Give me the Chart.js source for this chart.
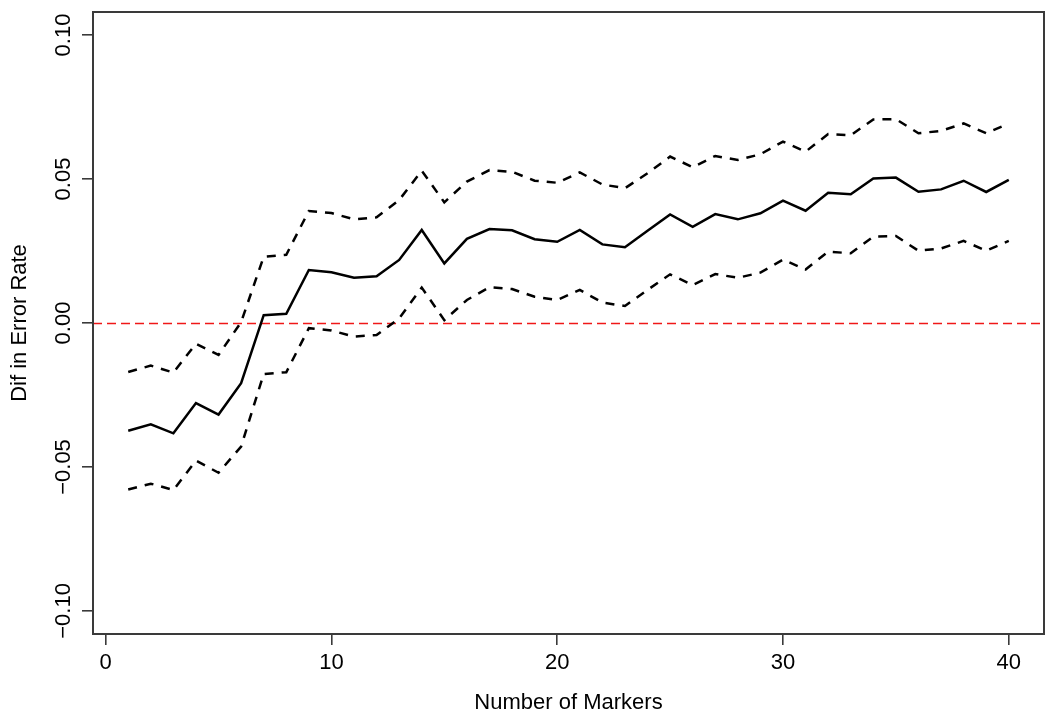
<!DOCTYPE html>
<html>
<head>
<meta charset="utf-8">
<script src="https://cdn.jsdelivr.net/npm/chart.js@4"></script>
<style>
  html, body { margin: 0; padding: 0; background: #fff; }
  #wrap { width: 1050px; height: 726px; position: relative; }
</style>
</head>
<body>
<div id="wrap"><canvas id="errChart"></canvas></div>
<script>
const markers = [1, 2, 3, 4, 5, 6, 7, 8, 9, 10, 11, 12, 13, 14, 15, 16, 17, 18, 19, 20,
                 21, 22, 23, 24, 25, 26, 27, 28, 29, 30, 31, 32, 33, 34, 35, 36, 37, 38, 39, 40];

const meanDiff = [-0.0374, -0.0352, -0.0383, -0.0278, -0.0318, -0.0209, 0.0027, 0.0032, 0.0184, 0.0176,
                  0.0157, 0.0162, 0.0219, 0.0323, 0.0207, 0.0292, 0.0326, 0.0322, 0.0291, 0.0282,
                  0.0323, 0.0273, 0.0263, 0.0320, 0.0377, 0.0334, 0.0378, 0.0360, 0.0381, 0.0425,
                  0.0390, 0.0452, 0.0447, 0.0502, 0.0505, 0.0456, 0.0464, 0.0494, 0.0455, 0.0497];

const upperBound = [-0.0170, -0.0148, -0.0172, -0.0072, -0.0111, 0.0003, 0.0230, 0.0237, 0.0389, 0.0382,
                    0.0360, 0.0367, 0.0427, 0.0529, 0.0419, 0.0491, 0.0531, 0.0525, 0.0494, 0.0487,
                    0.0523, 0.0481, 0.0468, 0.0520, 0.0578, 0.0541, 0.0580, 0.0566, 0.0586, 0.0630,
                    0.0595, 0.0656, 0.0652, 0.0707, 0.0708, 0.0659, 0.0667, 0.0693, 0.0659, 0.0693];

const lowerBound = [-0.0578, -0.0558, -0.0580, -0.0478, -0.0520, -0.0429, -0.0177, -0.0171, -0.0018, -0.0026,
                    -0.0047, -0.0042, 0.0016, 0.0123, 0.0010, 0.0080, 0.0124, 0.0118, 0.0091, 0.0080,
                    0.0115, 0.0071, 0.0059, 0.0115, 0.0169, 0.0132, 0.0170, 0.0157, 0.0175, 0.0220,
                    0.0186, 0.0248, 0.0242, 0.0300, 0.0302, 0.0251, 0.0259, 0.0285, 0.0251, 0.0285];

const xTicks = [0, 10, 20, 30, 40];
const yTicks = [-0.10, -0.05, 0.00, 0.05, 0.10];
const yTickLabels = ['\u22120.10', '\u22120.05', '0.00', '0.05', '0.10'];
const refLine = 0;

const FONT = "'Liberation Sans', Arial, Helvetica, sans-serif";
const AXIS_COL = '#3a3a3a';

const toPoints = ys => markers.map((m, i) => ({ x: m, y: ys[i] }));

// box, zero line and rotated y labels, like base R graphics
const rStylePlugin = {
    id: 'rStyle',
    beforeDatasetsDraw(chart) {
        const { ctx, chartArea, scales } = chart;
        const y0 = Math.round(scales.y.getPixelForValue(refLine)) + 0.5;
        ctx.save();
        ctx.strokeStyle = '#f01818';
        ctx.lineWidth = 1.6;
        ctx.setLineDash([9, 5]);
        ctx.beginPath();
        ctx.moveTo(chartArea.left, y0);
        ctx.lineTo(chartArea.right, y0);
        ctx.stroke();
        ctx.restore();
    },
    afterDraw(chart) {
        const { ctx, chartArea, scales } = chart;
        ctx.save();
        ctx.strokeStyle = AXIS_COL;
        ctx.lineWidth = 2;
        ctx.strokeRect(chartArea.left, chartArea.top,
                       chartArea.right - chartArea.left, chartArea.bottom - chartArea.top);

        ctx.fillStyle = '#000';
        ctx.font = '22px ' + FONT;
        ctx.textAlign = 'center';
        ctx.textBaseline = 'alphabetic';
        yTicks.forEach((v, i) => {
            const py = scales.y.getPixelForValue(v);
            ctx.save();
            ctx.translate(70, py);
            ctx.rotate(-Math.PI / 2);
            ctx.fillText(yTickLabels[i], 0, 0);
            ctx.restore();
        });
        ctx.restore();
    }
};

const lineStyle = {
    borderColor: '#000',
    borderWidth: 2.5,
    pointRadius: 0,
    tension: 0,
    fill: false
};

new Chart(document.getElementById('errChart').getContext('2d'), {
    type: 'line',
    data: {
        datasets: [
            { ...lineStyle, label: 'Upper', data: toPoints(upperBound), borderDash: [9, 8] },
            { ...lineStyle, label: 'Mean', data: toPoints(meanDiff) },
            { ...lineStyle, label: 'Lower', data: toPoints(lowerBound), borderDash: [9, 8] }
        ]
    },
    options: {
        responsive: true,
        maintainAspectRatio: false,
        animation: false,
        layout: { padding: { top: 12, right: 6, left: 0, bottom: 0 } },
        plugins: {
            legend: { display: false },
            tooltip: { enabled: false }
        },
        scales: {
            x: {
                type: 'linear',
                min: -0.56,
                max: 41.56,
                afterBuildTicks: scale => { scale.ticks = xTicks.map(v => ({ value: v })); },
                afterFit: scale => { scale.height = 92; },
                border: { display: false },
                grid: { drawOnChartArea: false, drawTicks: true, tickLength: 11, color: AXIS_COL, lineWidth: 1.6 },
                ticks: {
                    color: '#000',
                    font: { family: FONT, size: 22 },
                    padding: 5,
                    maxRotation: 0,
                    callback: v => String(v)
                },
                title: {
                    display: true,
                    text: 'Number of Markers',
                    color: '#000',
                    font: { family: FONT, size: 22 },
                    padding: { top: 0, bottom: 10 }
                }
            },
            y: {
                type: 'linear',
                min: -0.108,
                max: 0.108,
                afterBuildTicks: scale => { scale.ticks = yTicks.map(v => ({ value: v })); },
                afterFit: scale => { scale.width = 93; },
                border: { display: false },
                grid: { drawOnChartArea: false, drawTicks: true, tickLength: 11, color: AXIS_COL, lineWidth: 1.6 },
                ticks: { display: false },
                title: {
                    display: true,
                    text: 'Dif in Error Rate',
                    color: '#000',
                    font: { family: FONT, size: 22 },
                    padding: { top: 7, bottom: 0 }
                }
            }
        }
    },
    plugins: [rStylePlugin]
});
</script>
</body>
</html>
